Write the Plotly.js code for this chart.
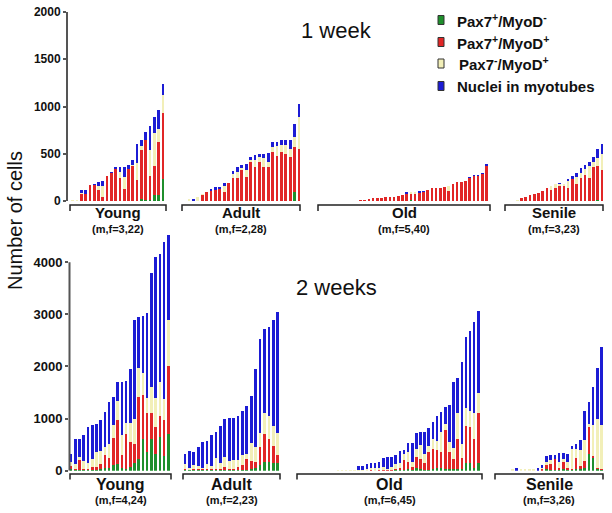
<!DOCTYPE html>
<html>
<head>
<meta charset="utf-8">
<script src="https://cdn.plot.ly/plotly-3.0.1.min.js"></script>
<style>html,body{margin:0;padding:0;background:#fff;}#chart{width:612px;height:513px;}</style>
</head>
<body>
<div id="chart"></div>
<script>
// ---------- DATA ----------
const seriesNames = ["Pax7<sup>+</sup>/MyoD<sup>-</sup>", "Pax7<sup>+</sup>/MyoD<sup>+</sup>", "Pax7<sup>-</sup>/MyoD<sup>+</sup>", "Nuclei in myotubes"];
const groupNames = ["Young", "Adult", "Old", "Senile"];
const week1Sub = ["(m,f=3,22)", "(m,f=2,28)", "(m,f=5,40)", "(m,f=3,23)"];
const week2Sub = ["(m,f=4,24)", "(m,f=2,23)", "(m,f=6,45)", "(m,f=3,26)"];
const weekTitles = ["1 week", "2 weeks"];
const yTicks1 = [0, 500, 1000, 1500, 2000];
const yTicks2 = [0, 1000, 2000, 3000, 4000];

// 1 week - Young
const w1YoungGreen  = [0,0,0,0,0,0,0,0,0,0,0,0,0,0,0,0,25,10,10,60,60,230];
const w1YoungRed    = [5,5,70,75,165,170,120,45,265,300,340,240,130,340,370,220,510,640,250,310,560,700];
const w1YoungYellow = [5,5,10,0,5,0,35,110,0,0,0,70,120,0,15,180,50,0,280,350,140,195];
const w1YoungBlue   = [0,0,35,40,0,10,45,55,0,10,20,50,110,45,45,205,65,75,250,165,200,110];
// 1 week - Adult
const w1AdultGreen  = [0,0,0,0,0,0,0,0,0,0,0,0,0,0,0,0,0,0,0,0,0,0,0,0,100,0];
const w1AdultRed    = [0,0,0,60,100,105,120,130,100,190,240,240,330,255,415,360,410,360,360,520,480,520,500,470,470,555];
const w1AdultYellow = [20,0,40,15,0,0,0,0,55,0,50,70,20,70,15,70,55,90,50,50,100,70,90,80,105,330];
const w1AdultBlue   = [0,20,0,0,0,20,25,20,35,0,30,50,30,70,35,55,35,50,100,50,40,60,60,100,145,145];
// 1 week - Old
const w1OldGreen  = [0,0,0,0,0,0,0,0,0, 0,0,0,0,0,0,0,0,0,0,0,0,10,0,0,0,0,0,0,0,0,0,0,0,0,0,0,0,0,0,0];
const w1OldRed    = [0,0,0,0,0,0,0,0,0, 8,12,21,28,35,35,38,38,45,56,63,70,60,70,85,98,115,133,133,133,150,110,185,196,196,213,240,265,265,284,375];
const w1OldYellow = [0,0,0,0,0,0,0,0,0, 0,0,0,0,0,0,0,0,0,0,0,0,28,21,0,0,0,0,0,0,0,47,0,0,0,0,0,0,0,0,0];
const w1OldBlue   = [0,0,0,0,0,0,0,0,0, 0,0,0,0,0,0,0,0,0,0,0,21,0,0,23,10,0,0,0,0,0,0,0,0,0,0,15,15,15,13,13];
// 1 week - Senile
const w1SenileGreen  = [0,0, 0,0,0,0,0,0,0,0,0,0,0,0,0,0,0,0,0,0,0,10,0];
const w1SenileRed    = [0,0, 5,35,42,60,70,88,105,133,115,140,160,160,140,238,185,245,273,245,360,357,332];
const w1SenileYellow = [0,0, 2,0,0,0,0,0,0,0,45,35,15,22,70,0,70,55,70,122,52,88,168];
const w1SenileBlue   = [0,0, 0,0,0,0,0,0,0,0,0,0,20,0,28,24,45,50,35,46,53,98,105];

// 2 weeks - Young
const w2YoungGreen  = [30,10,10,10,10,20,20,30,50,50,100,120,60,30,80,140,220,600,350,600,330,650,280,700];
const w2YoungRed    = [60,20,200,20,30,60,60,90,250,200,520,860,240,680,480,370,1200,850,750,500,500,400,700,1300];
const w2YoungYellow = [80,90,60,150,100,150,280,250,150,270,260,350,380,200,350,490,560,420,300,500,570,650,400,900];
const w2YoungBlue   = [160,480,330,500,690,650,540,610,680,800,540,370,1020,810,1040,1900,970,1100,1630,2200,2700,2450,3000,1620];
// 2 weeks - Adult
const w2AdultGreen  = [20,10,10,10,10,10,10,10,10,20,10,10,20,20,20,30,60,100,170,170,150,150];
const w2AdultRed    = [20,10,20,20,20,20,20,30,30,50,30,30,60,80,200,150,100,350,530,430,330,150];
const w2AdultYellow = [80,30,70,60,30,100,60,200,100,200,140,160,120,200,100,350,300,280,400,450,370,420];
const w2AdultBlue   = [200,328,265,370,497,446,595,510,718,715,825,805,850,845,920,905,1485,1800,1620,1700,2040,2330];
// 2 weeks - Old
const w2OldGreen  = [0,0,0,0,0,0,0,0,0,0, 0,0,0,0,0, 0,0,0,0,0,0,0,0,0,20,20,10,40,10,60,40,10,20,30,60,50,40,30,40,40,40,150,140,50,150];
const w2OldRed    = [0,0,0,0,0,0,0,0,0,0, 0,0,0,0,0, 0,0,0,10,0,20,10,10,20,20,40,190,130,60,200,180,140,340,380,340,300,740,320,180,560,200,700,700,550,950];
const w2OldYellow = [0,0,0,0,0,0,0,0,0,0, 15,15,15,15,15, 20,20,30,40,50,40,60,30,60,80,80,120,190,100,150,270,180,110,200,170,400,120,200,220,500,280,350,300,500,400];
const w2OldBlue   = [0,0,0,0,0,0,0,0,0,0, 0,0,0,0,0, 76,76,90,90,90,113,180,230,190,180,238,77,165,355,320,260,420,356,318,486,370,330,710,1270,685,1573,1373,1540,1750,1570];
// 2 weeks - Senile
const w2SenileGreen  = [0,0,0,0, 0,0,0,0,0,0,0,0,40,10,20,20,30,10,10,40,30,60,330,250,30,20];
const w2SenileRed    = [0,0,0,0, 0,0,0,0,0,0,0,30,60,120,200,40,140,40,20,200,60,120,500,30,20,20];
const w2SenileYellow = [0,0,0,0, 25,0,25,25,25,25,0,30,70,80,10,100,60,120,380,170,300,400,60,600,950,830];
const w2SenileBlue   = [0,0,0,0, 0,45,0,0,0,0,58,50,112,90,70,173,103,144,64,102,200,565,422,730,965,1498];

// ---------- STYLE / LAYOUT ----------
const W = 612, H = 513;
const FONT = 'Arial, "Liberation Sans", Helvetica, sans-serif';
const colors = ["#1f8f2c", "#e12626", "#f2efb8", "#1c1cd4"];
const px = v => v / W;
const py = v => 1 - v / H;

const panels = [
  {week:0, gi:0, s:[w1YoungGreen,w1YoungRed,w1YoungYellow,w1YoungBlue], dom:[68,165], padL:1.1, br:[70,166]},
  {week:0, gi:1, s:[w1AdultGreen,w1AdultRed,w1AdultYellow,w1AdultBlue], dom:[186.8,301.2], padL:0.5, br:[182,300]},
  {week:0, gi:2, s:[w1OldGreen,w1OldRed,w1OldYellow,w1OldBlue], dom:[320.5,488.5], padL:0.5, br:[318,490]},
  {week:0, gi:3, s:[w1SenileGreen,w1SenileRed,w1SenileYellow,w1SenileBlue], dom:[506.7,604.1], padL:0.5, br:[505,603]},
  {week:1, gi:0, s:[w2YoungGreen,w2YoungRed,w2YoungYellow,w2YoungBlue], dom:[69,170.4], padL:0.5, br:[70,171]},
  {week:1, gi:1, s:[w2AdultGreen,w2AdultRed,w2AdultYellow,w2AdultBlue], dom:[182.8,279.9], padL:0.5, br:[183,280]},
  {week:1, gi:2, s:[w2OldGreen,w2OldRed,w2OldYellow,w2OldBlue], dom:[294.5,480.4], padL:0.5, br:[297,482]},
  {week:1, gi:3, s:[w2SenileGreen,w2SenileRed,w2SenileYellow,w2SenileBlue], dom:[493.2,603.8], padL:0.5, br:[495,603]}
];

const traces = [];
const layout = {
  width: W, height: H,
  margin: {l:0, r:0, t:0, b:0},
  paper_bgcolor: '#fff', plot_bgcolor: 'rgba(0,0,0,0)',
  barmode: 'stack', bargap: 0.38,
  showlegend: false,
  font: {family: FONT, color: '#111'},
  shapes: [], annotations: []
};

panels.forEach((p, i) => {
  const n = p.s[0].length;
  const idx = p.s[0].map((_, k) => k);
  const xa = 'x' + (i + 1);
  const ya = p.week === 0 ? 'y' : 'y2';
  p.s.forEach((vals, si) => {
    traces.push({
      type: 'bar', x: idx, y: vals, xaxis: xa, yaxis: ya,
      name: seriesNames[si], marker: {color: colors[si], line: {width: 0}},
      hoverinfo: 'skip'
    });
  });
  layout['xaxis' + (i === 0 ? '' : (i + 1))] = {
    domain: [px(p.dom[0]), px(p.dom[1])],
    range: [-p.padL, n - 0.5],
    anchor: ya, visible: false, fixedrange: true
  };
  // bracket
  const yLine = p.week === 0 ? 205 : 474;
  const yTick = p.week === 0 ? 211 : 479.5;
  layout.shapes.push({
    type: 'path', xref: 'paper', yref: 'paper',
    path: `M ${px(p.br[0])},${py(yTick)} L ${px(p.br[0])},${py(yLine)} L ${px(p.br[1])},${py(yLine)} L ${px(p.br[1])},${py(yTick)}`,
    line: {color: '#222', width: 1.5}
  });
  const cx = (p.br[0] + p.br[1]) / 2;
  layout.annotations.push({
    xref: 'paper', yref: 'paper', x: px(cx), y: py(p.week === 0 ? 212.5 : 484),
    text: '<b>' + groupNames[p.gi] + '</b>', showarrow: false, xanchor: 'center', yanchor: 'middle',
    font: {family: FONT, size: p.week === 0 ? 15 : 16, color: '#111'}
  });
  layout.annotations.push({
    xref: 'paper', yref: 'paper', x: px(cx), y: py(p.week === 0 ? 228.5 : 499.5),
    text: '<b>' + (p.week === 0 ? week1Sub : week2Sub)[p.gi] + '</b>', showarrow: false, xanchor: 'center', yanchor: 'middle',
    font: {family: FONT, size: 11, color: '#111'}
  });
});

layout.yaxis = {
  domain: [py(201), py(12)], range: [0, 2000], anchor: 'x',
  tickvals: yTicks1, ticktext: yTicks1.map(String),
  showline: true, linecolor: '#555', linewidth: 2,
  ticks: 'outside', ticklen: 3, tickwidth: 2, tickcolor: '#555',
  showgrid: false, zeroline: false, fixedrange: true,
  tickfont: {family: FONT, size: 12, color: '#111', weight: 'bold'}
};
layout.yaxis2 = {
  domain: [py(470.7), py(231)], range: [0, 4600], anchor: 'x5',
  tickvals: yTicks2, ticktext: yTicks2.map(String),
  showline: false,
  ticks: 'outside', ticklen: 3, tickwidth: 2, tickcolor: '#555',
  showgrid: false, zeroline: false, fixedrange: true,
  tickfont: {family: FONT, size: 13, color: '#111', weight: 'bold'}
};
// bottom axis line only spans 0..4000
layout.shapes.push({type: 'line', xref: 'paper', yref: 'y2', x0: px(69.5), x1: px(69.5), y0: 0, y1: 4000,
  line: {color: '#555', width: 2}});

// titles
layout.annotations.push({xref:'paper', yref:'paper', x: px(336), y: py(30), text: weekTitles[0], showarrow:false,
  xanchor:'center', yanchor:'middle', font:{family: FONT, size: 22, color:'#111'}});
layout.annotations.push({xref:'paper', yref:'paper', x: px(336), y: py(287), text: weekTitles[1], showarrow:false,
  xanchor:'center', yanchor:'middle', font:{family: FONT, size: 22, color:'#111'}});
layout.annotations.push({xref:'paper', yref:'paper', x: px(15), y: py(221), text: 'Number of cells', showarrow:false,
  textangle: -90, xanchor:'center', yanchor:'middle', font:{family: FONT, size: 20, color:'#111'}});

// legend (drawn manually)
const legY = [20, 42, 63.5, 86];
seriesNames.forEach((nm, si) => {
  layout.shapes.push({type:'rect', xref:'paper', yref:'paper',
    x0: px(438), x1: px(444), y0: py(legY[si] + 4.5), y1: py(legY[si] - 4.5),
    fillcolor: colors[si], line: {color: '#333', width: 1}});
  layout.annotations.push({xref:'paper', yref:'paper', x: px(si === 2 ? 457 : 455), y: py(legY[si]),
    text: '<b>' + nm + '</b>', showarrow:false, xanchor:'left', yanchor:'middle',
    font:{family: FONT, size: 15, color:'#111'}});
});

Plotly.newPlot('chart', traces, layout, {staticPlot: true, displayModeBar: false});
</script>
</body>
</html>
